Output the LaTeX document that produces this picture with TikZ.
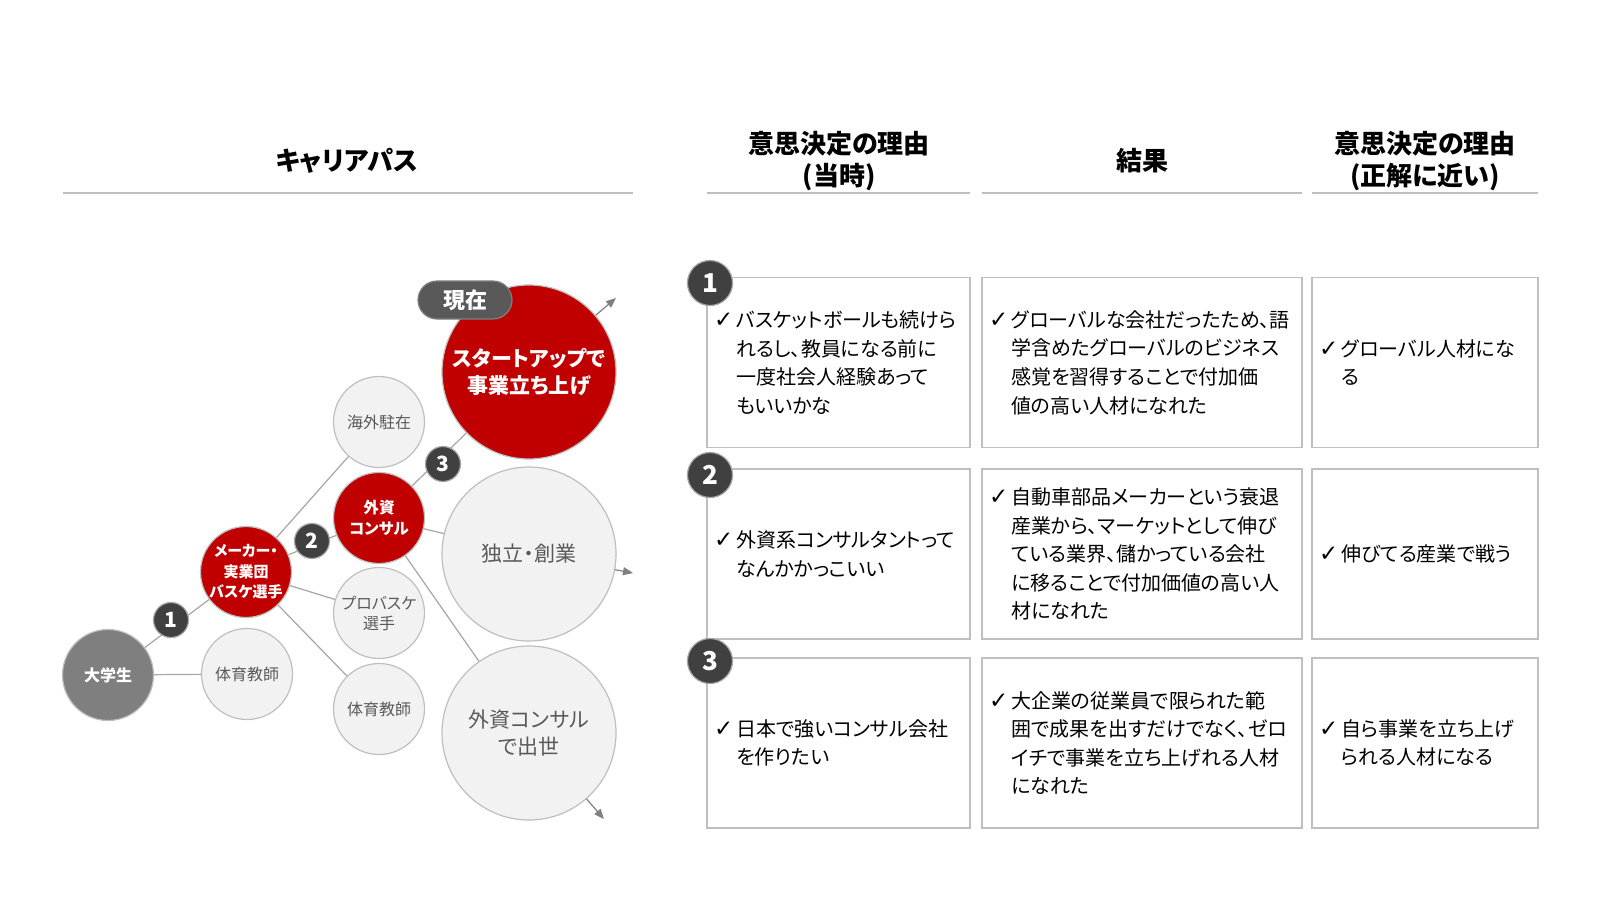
\documentclass[tikz,border=0pt]{standalone}
\usepackage{fontspec}
\setmainfont{Noto Sans CJK JP}[RawFeature=+palt]
\newfontfamily\symfont{DejaVu Sans}
\usetikzlibrary{arrows.meta}

\definecolor{keyred}{HTML}{C00000}
\definecolor{palegray}{HTML}{F2F2F2}
\definecolor{rimgray}{HTML}{BFBFBF}
\definecolor{midgray}{HTML}{7F7F7F}
\definecolor{textgray}{HTML}{595959}
\definecolor{badgegray}{HTML}{404040}
\definecolor{wiregray}{HTML}{A6A6A6}

\newcommand\chk{{\symfont\scalebox{1.15}{✓}}}
\newcommand\chkitem[1]{\setbox0=\hbox{\chk\hspace{1.5pt}}\copy0\parbox[t]{\dimexpr\hsize-\wd0-0.5pt\relax}{#1}}

\tikzset{
  headtext/.style={align=center, inner sep=0pt, font=\fontsize{13}{16.3}\selectfont\bfseries},
  headrule/.style={draw=rimgray, line width=1pt},
  bubble/.style={circle, draw=rimgray, line width=0.6pt, fill=palegray, text=textgray,
    align=center, inner sep=0pt},
  smallbub/.style={bubble, minimum size=45.5pt, font=\fontsize{8}{10}\selectfont},
  bigbub/.style={bubble, minimum size=87pt, font=\fontsize{10.5}{13.8}\selectfont},
  redbub/.style={fill=keyred, text=white},
  wire/.style={draw=wiregray, line width=0.6pt},
  outarrow/.style={draw=midgray, line width=0.6pt, -{Triangle[length=5pt, width=4pt]}},
  numbadge/.style={circle, fill=badgegray, draw=wiregray, line width=0.6pt, text=white,
    inner sep=0pt, font=\bfseries},
  reasonbox/.style={draw=rimgray, line width=0.75pt, inner xsep=3.5pt, align=left,
    minimum height=85pt, font=\fontsize{10}{14.3}\selectfont}
}

\begin{document}
\begin{tikzpicture}[x=0.5pt, y=-0.5pt]
  \fill[white] (0,0) rectangle (1600,900);
  \useasboundingbox (0,0) rectangle (1600,900);

  % 見出し
  \node[headtext] (hpath) at (347,161) {キャリアパス};
  \node[headtext] (hreason) at (839,161) {意思決定の理由\\(当時)};
  \node[headtext] (hresult) at (1142,161) {結果};
  \node[headtext] (hbetter) at (1425,161) {意思決定の理由\\(正解に近い)};
  \foreach \a/\b in {63/633, 707/970, 982/1302, 1312/1538} {
    \draw[headrule] (\a,193) -- (\b,193);
  }

  % キャリアパスのバブル
  \node[smallbub, fill=midgray, text=white, font=\fontsize{8}{10}\selectfont\bfseries] (daigaku) at (108,675) {大学生};
  \node[smallbub] (taiiku1) at (247,674) {体育教師};
  \node[smallbub, redbub, font=\fontsize{7.5}{10.2}\selectfont\bfseries] (maker) at (246,572) {メーカー・\\実業団\\バスケ選手};
  \node[smallbub] (kaigai) at (379,422) {海外駐在};
  \node[smallbub, redbub, font=\fontsize{7.8}{10.2}\selectfont\bfseries] (gaishi) at (379,518) {外資\\コンサル};
  \node[smallbub] (pro) at (379,613) {プロバスケ\\選手};
  \node[smallbub] (taiiku2) at (379,709) {体育教師};
  \node[bigbub, redbub, font=\fontsize{10.5}{13.8}\selectfont\bfseries] (startup) at (529,372) {スタートアップで\\事業立ち上げ};
  \node[bigbub] (dokuritsu) at (529,554) {独立・創業};
  \node[bigbub] (shusse) at (529,733) {外資コンサル\\で出世};
  \node[fill=textgray, draw=midgray, line width=0.6pt, rounded corners=9.5pt, minimum width=47pt,
    minimum height=19pt, text=white, font=\fontsize{11}{13}\selectfont\bfseries] (genzai) at (465,300) {現在};

  % 線
  \draw[wire] (daigaku) -- (taiiku1);
  \draw[wire] (daigaku) -- (maker);
  \draw[wire] (maker) -- (kaigai);
  \draw[wire] (maker) -- (gaishi);
  \draw[wire] (maker) -- (pro);
  \draw[wire] (maker) -- (taiiku2);
  \draw[wire] (gaishi) -- (startup);
  \draw[wire] (gaishi) -- (dokuritsu);
  \draw[wire] (gaishi) -- (shusse);

  % 先へ伸びる矢印
  \coordinate (tipA) at (616,298);
  \coordinate (tipB) at (633,573);
  \coordinate (tipC) at (604,819);
  \draw[outarrow] (startup) -- (tipA);
  \draw[outarrow] (dokuritsu) -- (tipB);
  \draw[outarrow] (shusse) -- (tipC);

  % 番号
  \node[numbadge, minimum size=17.5pt, font=\fontsize{10.5}{12}\selectfont\bfseries] (b1) at (171,620) {1};
  \node[numbadge, minimum size=17.5pt, font=\fontsize{10.5}{12}\selectfont\bfseries] (b2) at (312,541) {2};
  \node[numbadge, minimum size=17.5pt, font=\fontsize{10.5}{12}\selectfont\bfseries] (b3) at (443,464) {3};

  % 理由の表
  \node[reasonbox, text width=124.5pt, minimum width=131.5pt] (r1c1) at (838.5,362.5)
    {\chkitem{バスケットボールも続けら\\れるし、教員になる前に\\一度社会人経験あって\\もいいかな}};
  \node[reasonbox, text width=153pt, minimum width=160pt] (r1c2) at (1142,362.5)
    {\chkitem{グローバルな会社だったため、語\\学含めたグローバルのビジネス\\感覚を習得することで付加価\\値の高い人材になれた}};
  \node[reasonbox, text width=106pt, minimum width=113pt] (r1c3) at (1425,362.5)
    {\chkitem{グローバル人材にな\\る}};

  \node[reasonbox, text width=124.5pt, minimum width=131.5pt] (r2c1) at (838.5,554)
    {\chkitem{外資系コンサルタントって\\なんかかっこいい}};
  \node[reasonbox, text width=153pt, minimum width=160pt] (r2c2) at (1142,554)
    {\chkitem{自動車部品メーカーという衰退\\産業から、マーケットとして伸び\\ている業界、儲かっている会社\\に移ることで付加価値の高い人\\材になれた}};
  \node[reasonbox, text width=106pt, minimum width=113pt] (r2c3) at (1425,554)
    {\chkitem{伸びてる産業で戦う}};

  \node[reasonbox, text width=124.5pt, minimum width=131.5pt] (r3c1) at (838.5,743)
    {\chkitem{日本で強いコンサル会社\\を作りたい}};
  \node[reasonbox, text width=153pt, minimum width=160pt] (r3c2) at (1142,743)
    {\chkitem{大企業の従業員で限られた範\\囲で成果を出すだけでなく、ゼロ\\イチで事業を立ち上げれる人材\\になれた}};
  \node[reasonbox, text width=106pt, minimum width=113pt] (r3c3) at (1425,743)
    {\chkitem{自ら事業を立ち上げ\\られる人材になる}};

  \foreach \n/\y in {1/283, 2/475, 3/661} {
    \node[numbadge, minimum size=22.5pt, font=\fontsize{13}{15}\selectfont\bfseries] (t\n) at (710,\y) {\n};
  }
\end{tikzpicture}
\end{document}
